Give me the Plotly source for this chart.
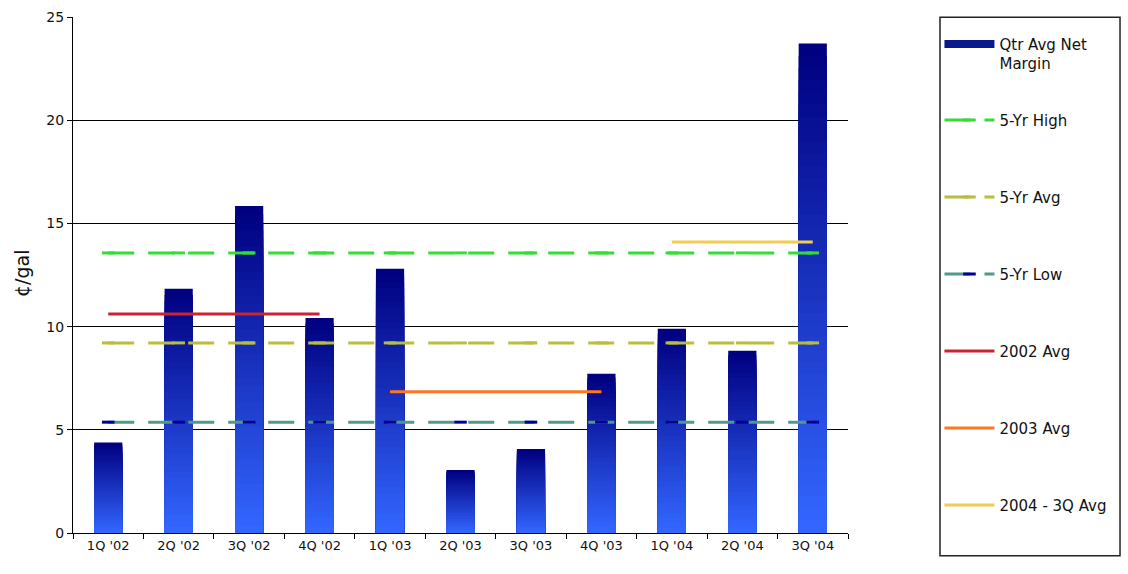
import plotly.graph_objects as go

# Quarterly average net margin, cents per gallon
quarters = ["1Q '02", "2Q '02", "3Q '02", "4Q '02", "1Q '03", "2Q '03",
            "3Q '03", "4Q '03", "1Q '04", "2Q '04", "3Q '04"]
net_margin = [4.38, 11.83, 15.84, 10.42, 12.8, 3.05, 4.07, 7.71, 9.9, 8.83, 23.72]

# Reference levels
five_yr_high = 13.57
five_yr_avg = 9.21
five_yr_low = 5.37
avg_2002 = 10.61
avg_2003 = 6.84
avg_2004_3q = 14.1

quarters_2002 = quarters[0:4]
quarters_2003 = quarters[4:8]
quarters_2004 = quarters[8:11]

fig = go.Figure()

# Bars with a vertical gradient: stacked overlays, lighter toward the base
N_LAYERS = 40
top_rgb = (0, 0, 128)
bot_rgb = (51, 102, 255)
for k in range(N_LAYERS):
    t = k / (N_LAYERS - 1)
    r, g, b = (round(a + (c - a) * t) for a, c in zip(top_rgb, bot_rgb))
    fig.add_trace(go.Bar(
        x=quarters,
        y=[v * (N_LAYERS - k) / N_LAYERS for v in net_margin],
        width=0.4,
        marker=dict(color=f"rgb({r},{g},{b})", line=dict(width=0)),
        showlegend=False,
        hoverinfo="skip",
    ))

# Legend entry for the bars (own legend box so it can sit higher)
fig.add_trace(go.Scatter(
    x=[None], y=[None], mode="lines", name="Qtr Avg Net<br>Margin",
    line=dict(color="#0a1a8c", width=8), legend="legend2",
))

def level_line(xs, value, name, color, dash, group, marker_color=None):
    fig.add_trace(go.Scatter(
        x=xs, y=[value] * len(xs), name=name, legendgroup=group,
        mode="lines+markers" if marker_color else "lines",
        line=dict(color=color, width=3, dash=dash),
        marker=dict(symbol="line-ew", size=9,
                    line=dict(color=marker_color or color, width=3)),
        hoverinfo="skip",
    ))

long_dash = "26px,14px"
level_line(quarters, five_yr_high, "5-Yr High", "#33dd33", long_dash, "g1", "#33dd33")
level_line(quarters, five_yr_avg, "5-Yr Avg", "#b8be3a", long_dash, "g2", "#b8be3a")
level_line(quarters, five_yr_low, "5-Yr Low", "#4f9a88", long_dash, "g3", "#000099")
level_line(quarters_2002, avg_2002, "2002 Avg", "#cc2233", "solid", "g4")
level_line(quarters_2003, avg_2003, "2003 Avg", "#ff7722", "solid", "g5")
level_line(quarters_2004, avg_2004_3q, "2004 - 3Q Avg", "#f0cc50", "solid", "g6")

# Legend frame
fig.add_shape(type="rect", xref="paper", yref="paper",
              x0=1.1187, x1=1.351, y0=-0.044, y1=0.9994,
              line=dict(color="#222", width=1.5), fillcolor="rgba(0,0,0,0)")

# Y-axis title
fig.add_annotation(text="¢/gal", xref="paper", yref="paper",
                   x=(22 - 73) / 775, y=(533.3 - 274) / 516.6,
                   xanchor="center", yanchor="middle", textangle=-90,
                   showarrow=False,
                   font=dict(size=19, family="DejaVu Sans", color="#111"))

legend_font = dict(size=15, family="DejaVu Sans", color="#111")

fig.update_layout(
    width=1128, height=574,
    margin=dict(l=73, r=280, t=17, b=41, autoexpand=False),
    paper_bgcolor="white", plot_bgcolor="white",
    barmode="overlay",
    font=dict(family="DejaVu Sans", color="#111"),
    legend=dict(
        x=1.118, xanchor="left", y=(533.3 - 103.5) / 516.6, yanchor="top",
        bgcolor="rgba(0,0,0,0)", borderwidth=0, font=legend_font,
        itemwidth=50, tracegroupgap=54.5, traceorder="grouped",
    ),
    legend2=dict(
        x=1.118, xanchor="left", y=(533.3 - 27.5) / 516.6, yanchor="top",
        bgcolor="rgba(0,0,0,0)", borderwidth=0, font=legend_font,
        itemwidth=50, valign="top",
    ),
    xaxis=dict(
        type="category", range=[-0.5, 10.5],
        showline=True, linecolor="black", linewidth=1,
        ticks="outside", tickson="boundaries", ticklen=5, tickcolor="black",
        tickfont=dict(size=13, family="DejaVu Sans", color="#111"),
        showgrid=False,
    ),
    yaxis=dict(
        range=[0, 25], dtick=5,
        showline=True, linecolor="black", linewidth=1,
        ticks="outside", ticklen=5, tickcolor="black",
        tickfont=dict(size=14, family="DejaVu Sans", color="#111"),
        showgrid=True, gridcolor="black", gridwidth=1,
        zeroline=False,
    ),
)

fig.write_html("out.html")
